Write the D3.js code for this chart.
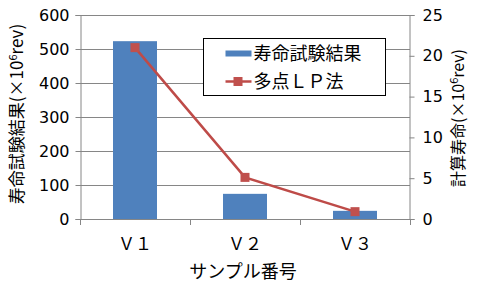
<!DOCTYPE html>
<html>
<head>
<meta charset="utf-8">
<script src="https://cdn.jsdelivr.net/npm/d3@7"></script>
<style>
body { margin: 0; background: #fff; }
text { font-family: "Noto Sans CJK JP", "DejaVu Sans", sans-serif; fill: #000; }
</style>
</head>
<body>
<div id="chart"></div>
<script>
var categories = ['Ｖ１', 'Ｖ２', 'Ｖ３'];
var lifeTest = [523, 74, 24];      // 寿命試験結果
var multiLP = [21, 5.1, 0.9];      // 多点ＬＰ法
var leftTicks = [0, 100, 200, 300, 400, 500, 600];
var rightTicks = [0, 5, 10, 15, 20, 25];

var width = 480, height = 288;
var margin = {top: 15, right: 70, bottom: 69, left: 80};

var svg = d3.select('#chart').append('svg')
  .attr('width', width)
  .attr('height', height);

var x = d3.scaleBand()
  .domain(categories)
  .range([margin.left, width - margin.right]);

var yL = d3.scaleLinear().domain([0, 600]).range([height - margin.bottom, margin.top]);
var yR = d3.scaleLinear().domain([0, 25]).range([height - margin.bottom, margin.top]);

// gridlines
svg.selectAll('line.grid')
  .data(leftTicks)
  .enter()
  .append('line')
  .attr('class', 'grid')
  .attr('x1', margin.left)
  .attr('x2', width - margin.right)
  .attr('y1', function(d) { return yL(d) + 0.5; })
  .attr('y2', function(d) { return yL(d) + 0.5; })
  .style('stroke', '#868686');

// bars
svg.selectAll('rect.bar')
  .data(lifeTest)
  .enter()
  .append('rect')
  .attr('class', 'bar')
  .attr('x', function(d, i) { return x(categories[i]) + x.bandwidth() * 0.3; })
  .attr('width', x.bandwidth() * 0.4)
  .attr('y', function(d) { return yL(d); })
  .attr('height', function(d) { return yL(0) - yL(d); })
  .style('fill', '#4F81BD');

// axes
var leftAxis = d3.axisLeft(yL).tickValues(leftTicks).tickSize(5).tickPadding(6);
var rightAxis = d3.axisRight(yR).tickValues(rightTicks).tickSize(5).tickPadding(8);
var bottomAxis = d3.axisBottom(x).tickSize(0).tickPadding(18);

function styleAxis(g) {
  g.select('.domain').style('stroke', '#868686');
  g.selectAll('.tick line').style('stroke', '#868686');
  g.selectAll('.tick text').style('font-size', '16px').style('font-family', '"DejaVu Sans", sans-serif').style('fill', '#000');
}

svg.append('g')
  .attr('transform', 'translate(' + (margin.left + 0.5) + ',0)')
  .call(leftAxis)
  .call(styleAxis);

svg.append('g')
  .attr('transform', 'translate(' + (width - margin.right - 0.5) + ',0)')
  .call(rightAxis)
  .call(styleAxis);

var bx = svg.append('g')
  .attr('transform', 'translate(0,' + (height - margin.bottom + 0.5) + ')')
  .call(bottomAxis);
bx.select('.domain').remove();
bx.selectAll('.tick text').style('font-size', '17px').style('fill', '#000');

// category tick marks
var sepTicks = [0, 1, 2, 3];
svg.selectAll('line.sep')
  .data(sepTicks)
  .enter()
  .append('line')
  .attr('class', 'sep')
  .attr('x1', function(d) { return margin.left + d * x.step() + 0.5; })
  .attr('x2', function(d) { return margin.left + d * x.step() + 0.5; })
  .attr('y1', yL(0))
  .attr('y2', yL(0) + 6)
  .style('stroke', '#868686');
svg.append('line')
  .attr('x1', margin.left).attr('x2', width - margin.right)
  .attr('y1', yL(0) + 0.5).attr('y2', yL(0) + 0.5)
  .style('stroke', '#868686');

// line series
var line = d3.line()
  .x(function(d, i) { return x(categories[i]) + x.bandwidth() / 2; })
  .y(function(d) { return yR(d); });

svg.append('path')
  .datum(multiLP)
  .attr('d', line)
  .style('fill', 'none')
  .style('stroke', '#BE4B48')
  .style('stroke-width', 2.5);

svg.selectAll('rect.marker')
  .data(multiLP)
  .enter()
  .append('rect')
  .attr('class', 'marker')
  .attr('x', function(d, i) { return x(categories[i]) + x.bandwidth() / 2 - 4.5; })
  .attr('y', function(d) { return yR(d) - 4.5; })
  .attr('width', 9)
  .attr('height', 9)
  .style('fill', '#C0504D');

// axis titles
function addTitle(tx, ty, rot, prefix, fs) {
  var t = svg.append('text')
    .attr('transform', 'translate(' + tx + ',' + ty + ') rotate(' + rot + ')')
    .attr('text-anchor', 'middle')
    .style('font-size', fs + 'px');
  t.append('tspan').text(prefix + '(×10');
  t.append('tspan').attr('dy', -6).style('font-size', '11px').text('6');
  t.append('tspan').attr('dy', 6).text('rev)');
}
addTitle(23, 114, -90, '寿命試験結果', 17);
addTitle(464, 118, -90, '計算寿命', 16);

svg.append('text')
  .attr('x', 243)
  .attr('y', 278)
  .attr('text-anchor', 'middle')
  .style('font-size', '18px')
  .text('サンプル番号');

// legend
var legend = svg.append('g').attr('transform', 'translate(203.5,38.5)');
legend.append('rect')
  .attr('width', 182)
  .attr('height', 57)
  .style('fill', '#fff')
  .style('stroke', '#000');
legend.append('rect')
  .attr('x', 22).attr('y', 12).attr('width', 26).attr('height', 6)
  .style('fill', '#4F81BD');
legend.append('text').attr('x', 50).attr('y', 21).style('font-size', '18px').text('寿命試験結果');
legend.append('line')
  .attr('x1', 22).attr('x2', 48).attr('y1', 43).attr('y2', 43)
  .style('stroke', '#BE4B48').style('stroke-width', 2.5);
legend.append('rect')
  .attr('x', 30).attr('y', 38.5).attr('width', 9).attr('height', 9)
  .style('fill', '#C0504D');
legend.append('text').attr('x', 50).attr('y', 49).style('font-size', '18px').text('多点ＬＰ法');
</script>
</body>
</html>
